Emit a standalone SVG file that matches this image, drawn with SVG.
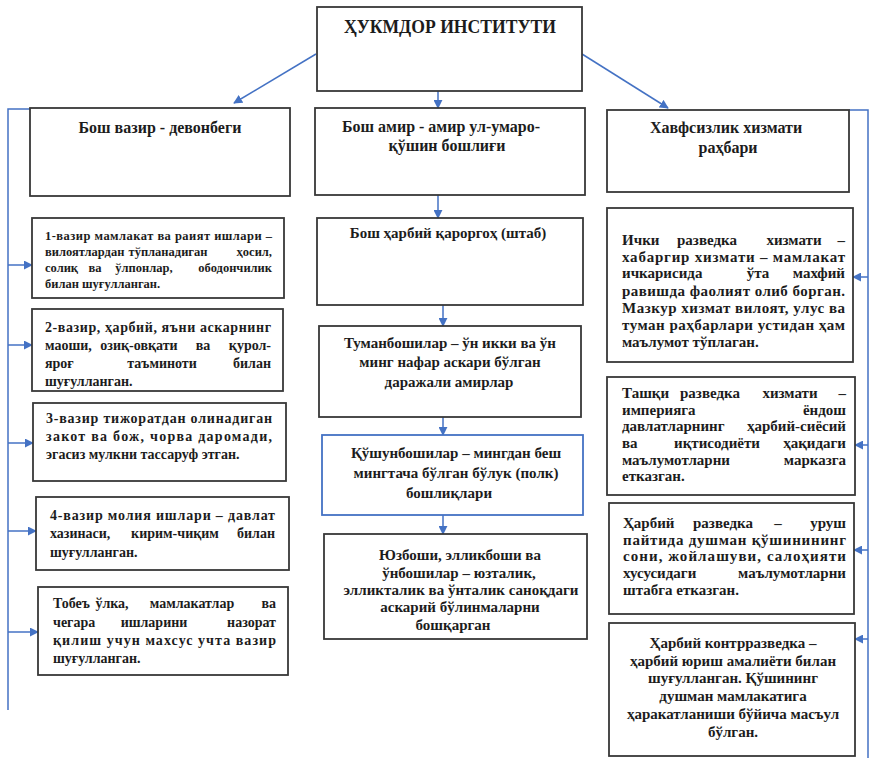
<svg xmlns="http://www.w3.org/2000/svg" width="873" height="758" viewBox="0 0 873 758" font-family="'Liberation Serif', 'DejaVu Serif', 'Noto Serif', serif">
<defs>
<marker id="ah" viewBox="0 0 10 10" refX="9" refY="5" markerWidth="9" markerHeight="9" markerUnits="userSpaceOnUse" orient="auto"><path d="M0,0 L10,5 L0,10 z" fill="#4472C4"/></marker>
</defs>
<style>
.box{fill:#fff;stroke:#383838;stroke-width:1.8}
.bbox{fill:#fff;stroke:#4472C4;stroke-width:1.8}
.t{font-family:'Liberation Serif','DejaVu Serif','Noto Serif',serif;font-weight:700;fill:#1c1c1c}
.s12{font-size:12.5px}.s14{font-size:14px}.s15{font-size:15px}.s16{font-size:16px}.s18{font-size:18px}
.c{text-anchor:middle}.e{text-anchor:end}
.con{stroke:#4472C4;stroke-width:1.5;fill:none}
.arr{stroke:#4472C4;stroke-width:1.5;fill:none;marker-end:url(#ah)}
</style>
<rect width="873" height="758" fill="#fff"/>

<g id="connectors">
<path class="arr" d="M316,54 L234,103"/>
<path class="arr" d="M438,91 L438,108"/>
<path class="arr" d="M582,54 L668,108"/>
<path class="arr" d="M438,195 L438,218"/>
<path class="arr" d="M443,305 L443,326"/>
<path class="arr" d="M443,417 L443,435"/>
<path class="arr" d="M443,515 L443,534"/>
<path class="con" d="M30,109 L8,109 L8,710"/>
<path class="arr" d="M8,265 L32,265"/>
<path class="arr" d="M8,345 L32,345"/>
<path class="arr" d="M8,443 L33,443"/>
<path class="arr" d="M8,531 L36,531"/>
<path class="arr" d="M8,632 L38,632"/>
<path class="con" d="M849,110 L868,110 L868,758"/>
<path class="arr" d="M868,277 L853,277"/>
<path class="arr" d="M868,445 L855,445"/>
<path class="arr" d="M868,550 L854,550"/>
<path class="arr" d="M868,639 L855,639"/>
</g>

<g id="title">
<rect class="box" x="317" y="7" width="265" height="84"/>
<text class="t s18 c" x="450" y="33" textLength="212" lengthAdjust="spacingAndGlyphs">ҲУКМДОР ИНСТИТУТИ</text>
</g>

<g id="bosh-vazir">
<rect class="box" x="30" y="108" width="260" height="88"/>
<text class="t s16 c" x="160" y="133">Бош вазир - девонбеги</text>
</g>

<g id="bosh-amir">
<rect class="box" x="315" y="108" width="270" height="87"/>
<text class="t s16 c" x="441" y="132">Бош амир - амир ул-умаро-</text>
<text class="t s16 c" x="447" y="151">қўшин бошлиғи</text>
</g>

<g id="xavfsizlik">
<rect class="box" x="607" y="110" width="242" height="82"/>
<text class="t s16 c" x="726" y="133">Хавфсизлик хизмати</text>
<text class="t s16 c" x="728" y="153">раҳбари</text>
</g>

<g id="vazir1">
<rect class="box" x="32" y="218" width="252" height="80"/>
<text class="t s12" x="45" y="240" textLength="227">1-вазир мамлакат ва раият ишлари –</text>
<text class="t s12" x="45" y="256">вилоятлардан</text>
<text class="t s12 c" x="168" y="256">тўпланадиган</text>
<text class="t s12 e" x="272" y="256">ҳосил,</text>
<text class="t s12" x="45" y="272">солиқ</text>
<text class="t s12 c" x="95" y="272">ва</text>
<text class="t s12 c" x="144" y="272">ўлпонлар,</text>
<text class="t s12 e" x="272" y="272">ободончилик</text>
<text class="t s12" x="45" y="288">билан шуғулланган.</text>
</g>

<g id="vazir2">
<rect class="box" x="32" y="309" width="251" height="82"/>
<text class="t s14" x="45" y="332" textLength="226">2-вазир, ҳарбий, яъни аскарнинг</text>
<text class="t s14" x="45" y="350">маоши,</text>
<text class="t s14 c" x="139" y="350">озиқ-овқати</text>
<text class="t s14 c" x="203" y="350">ва</text>
<text class="t s14 e" x="271" y="350">қурол-</text>
<text class="t s14" x="45" y="368">яроғ</text>
<text class="t s14 c" x="162" y="368">таъминоти</text>
<text class="t s14 e" x="271" y="368">билан</text>
<text class="t s14" x="45" y="386">шуғулланган.</text>
</g>

<g id="vazir3">
<rect class="box" x="33" y="403" width="253" height="78"/>
<text class="t s14" x="46" y="423" textLength="226">3-вазир тижоратдан олинадиган</text>
<text class="t s14" x="46" y="441" textLength="226">закот ва бож, чорва даромади,</text>
<text class="t s14" x="46" y="459">эгасиз мулкни тассаруф этган.</text>
</g>

<g id="vazir4">
<rect class="box" x="36" y="497" width="253" height="73"/>
<text class="t s14" x="50" y="520" textLength="225">4-вазир молия ишлари – давлат</text>
<text class="t s14" x="50" y="538">хазинаси,</text>
<text class="t s14 c" x="175" y="538">кирим-чиқим</text>
<text class="t s14 e" x="275" y="538">билан</text>
<text class="t s14" x="50" y="557">шуғулланган.</text>
</g>

<g id="vazir5">
<rect class="box" x="38" y="587" width="250" height="88"/>
<text class="t s14" x="53" y="608">Тобеъ</text>
<text class="t s14 c" x="112" y="608">ўлка,</text>
<text class="t s14 c" x="192" y="608">мамлакатлар</text>
<text class="t s14 e" x="276" y="608">ва</text>
<text class="t s14" x="53" y="627">чегара</text>
<text class="t s14 c" x="154" y="627">ишларини</text>
<text class="t s14 e" x="276" y="627">назорат</text>
<text class="t s14" x="53" y="645" textLength="223">қилиш учун махсус учта вазир</text>
<text class="t s14" x="53" y="663">шуғулланган.</text>
</g>

<g id="qarorgoh">
<rect class="box" x="317" y="218" width="266" height="87"/>
<text class="t s15 c" x="448" y="238">Бош ҳарбий қароргоҳ (штаб)</text>
</g>

<g id="tumanboshilar">
<rect class="box" x="319" y="326" width="262" height="91"/>
<text class="t s15 c" x="450" y="348">Туманбошилар – ўн икки ва ўн</text>
<text class="t s15 c" x="450" y="367">минг нафар аскари бўлган</text>
<text class="t s15 c" x="449" y="387">даражали амирлар</text>
</g>

<g id="qushunboshilar">
<rect class="bbox" x="322" y="435" width="261" height="80"/>
<text class="t s15 c" x="456" y="458">Қўшунбошилар – мингдан беш</text>
<text class="t s15 c" x="456" y="478">мингтача бўлган бўлук (полк)</text>
<text class="t s15 c" x="449" y="498">бошлиқлари</text>
</g>

<g id="yuzboshi">
<rect class="box" x="324" y="534" width="263" height="105"/>
<text class="t s15 c" x="460" y="560">Юзбоши, элликбоши ва</text>
<text class="t s15 c" x="459" y="578">ўнбошилар – юзталик,</text>
<text class="t s15 c" x="461" y="595">элликталик ва ўнталик саноқдаги</text>
<text class="t s15 c" x="460" y="612">аскарий бўлинмаларни</text>
<text class="t s15 c" x="453" y="630">бошқарган</text>
</g>

<g id="ichki">
<rect class="box" x="607" y="208" width="246" height="154"/>
<text class="t s15" x="622" y="245">Ички</text>
<text class="t s15 c" x="707" y="245">разведка</text>
<text class="t s15 c" x="794" y="245">хизмати</text>
<text class="t s15 e" x="845" y="245">–</text>
<text class="t s15" x="622" y="262" textLength="223">хабаргир хизмати – мамлакат</text>
<text class="t s15" x="622" y="278">ичкарисида</text>
<text class="t s15 c" x="758" y="278">ўта</text>
<text class="t s15 e" x="845" y="278">махфий</text>
<text class="t s15" x="622" y="296" textLength="223">равишда фаолият олиб борган.</text>
<text class="t s15" x="622" y="313" textLength="223">Мазкур хизмат вилоят, улус ва</text>
<text class="t s15" x="622" y="330" textLength="223">туман раҳбарлари устидан ҳам</text>
<text class="t s15" x="622" y="347">маълумот тўплаган.</text>
</g>

<g id="tashqi">
<rect class="box" x="607" y="377" width="248" height="118"/>
<text class="t s15" x="622" y="398">Ташқи</text>
<text class="t s15 c" x="710" y="398">разведка</text>
<text class="t s15 c" x="790" y="398">хизмати</text>
<text class="t s15 e" x="846" y="398">–</text>
<text class="t s15" x="622" y="415">империяга</text>
<text class="t s15 e" x="846" y="415">ёндош</text>
<text class="t s15" x="622" y="431">давлатларнинг</text>
<text class="t s15 e" x="846" y="431">ҳарбий-сиёсий</text>
<text class="t s15" x="622" y="448">ва</text>
<text class="t s15 c" x="717" y="448">иқтисодиёти</text>
<text class="t s15 e" x="846" y="448">ҳақидаги</text>
<text class="t s15" x="622" y="465">маълумотларни</text>
<text class="t s15 e" x="846" y="465">марказга</text>
<text class="t s15" x="622" y="481">етказган.</text>
</g>

<g id="harbiy-razvedka">
<rect class="box" x="609" y="503" width="245" height="111"/>
<text class="t s15" x="623" y="528">Ҳарбий</text>
<text class="t s15 c" x="723" y="528">разведка</text>
<text class="t s15 c" x="778" y="528">–</text>
<text class="t s15 e" x="846" y="528">уруш</text>
<text class="t s15" x="623" y="545" textLength="223">пайтида душман қўшинининг</text>
<text class="t s15" x="623" y="561" textLength="223">сони, жойлашуви, салоҳияти</text>
<text class="t s15" x="623" y="578">хусусидаги</text>
<text class="t s15 e" x="846" y="578">маълумотларни</text>
<text class="t s15" x="623" y="595">штабга етказган.</text>
</g>

<g id="kontrrazvedka">
<rect class="box" x="609" y="623" width="246" height="133"/>
<text class="t s15 c" x="733" y="648">Ҳарбий контрразведка –</text>
<text class="t s15 c" x="733" y="666">ҳарбий юриш амалиёти билан</text>
<text class="t s15 c" x="733" y="683">шуғулланган. Қўшининг</text>
<text class="t s15 c" x="733" y="701">душман мамлакатига</text>
<text class="t s15 c" x="733" y="719">ҳаракатланиши бўйича масъул</text>
<text class="t s15 c" x="733" y="737">бўлган.</text>
</g>
</svg>
